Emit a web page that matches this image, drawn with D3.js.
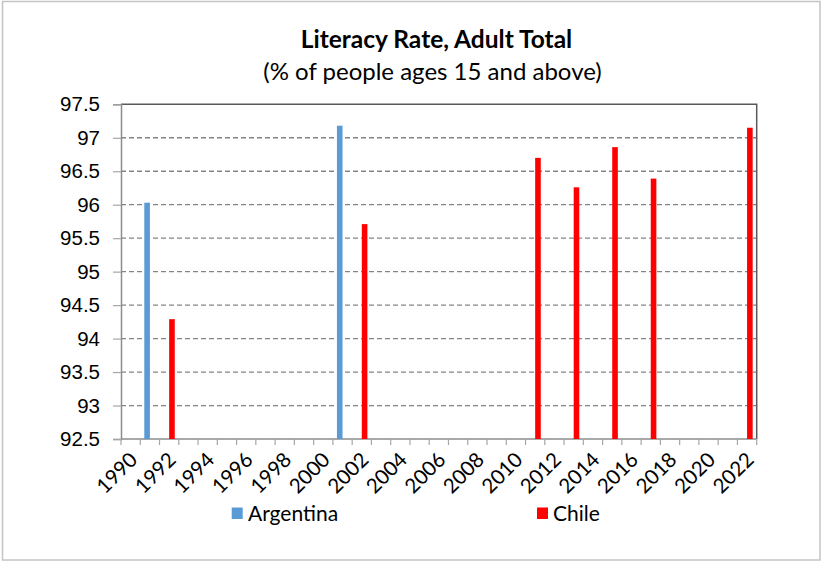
<!DOCTYPE html>
<html>
<head>
<meta charset="utf-8">
<script src="https://cdn.jsdelivr.net/npm/d3@7"></script>
<style>
  html, body { margin: 0; padding: 0; background: #fff; }
  svg { display: block; font-family: Lato, "Liberation Sans", sans-serif; }
</style>
</head>
<body>
<svg id="chart" width="822" height="561"></svg>
<script>
// Category axis: every year from 1990 to 2022
const years = [1990, 1991, 1992, 1993, 1994, 1995, 1996, 1997, 1998, 1999, 2000,
               2001, 2002, 2003, 2004, 2005, 2006, 2007, 2008, 2009, 2010,
               2011, 2012, 2013, 2014, 2015, 2016, 2017, 2018, 2019, 2020,
               2021, 2022];
const xTickLabels = [1990, 1992, 1994, 1996, 1998, 2000, 2002, 2004, 2006, 2008,
                     2010, 2012, 2014, 2016, 2018, 2020, 2022];
const yTicks = [92.5, 93, 93.5, 94, 94.5, 95, 95.5, 96, 96.5, 97, 97.5];

// Adult literacy rate (%), by country
const seriesNames = ["Argentina", "Chile"];
const seriesColors = ["#5b9bd5", "#ff0000"];
const argentinaYears = [1991, 2001];
const argentinaValues = [96.03, 97.18];
const chileYears = [1992, 2002, 2011, 2013, 2015, 2017, 2022];
const chileValues = [94.29, 95.71, 96.70, 96.26, 96.86, 96.39, 97.15];

const series = [
  { name: seriesNames[0], color: seriesColors[0],
    points: argentinaYears.map((y, i) => ({ year: y, value: argentinaValues[i] })) },
  { name: seriesNames[1], color: seriesColors[1],
    points: chileYears.map((y, i) => ({ year: y, value: chileValues[i] })) }
];

const svg = d3.select("#chart");
const plot = { left: 121, right: 756.7, top: 104.3, bottom: 439 };

// Outer frame
svg.append("rect")
  .attr("x", 2.5).attr("y", 1.5)
  .attr("width", 817.5).attr("height", 558.5)
  .attr("fill", "none").attr("stroke", "#c4c4c4").attr("stroke-width", 1.5);

const x = d3.scaleBand().domain(years).range([plot.left, plot.right]).padding(0);
const bw = x.bandwidth();
const xSub = d3.scaleBand().domain(seriesNames).range([bw / 2 - 5.6, bw / 2 + 5.6]).padding(0);
const y = d3.scaleLinear().domain([92.5, 97.5]).range([plot.bottom, plot.top]);

// Horizontal dashed gridlines
svg.append("g")
  .selectAll("line")
  .data(yTicks.filter(t => t > 92.5 && t < 97.5))
  .join("line")
  .attr("x1", plot.left).attr("x2", plot.right)
  .attr("y1", d => y(d)).attr("y2", d => y(d))
  .attr("stroke", "#858585").attr("stroke-width", 1.3)
  .attr("stroke-dasharray", "5,3");

// Plot frame: dark top and right edges
svg.append("path")
  .attr("d", `M${plot.left},${plot.top}H${plot.right}V${plot.bottom}`)
  .attr("fill", "none").attr("stroke", "#595959").attr("stroke-width", 1.5);

// Y axis
const yAxis = svg.append("g")
  .attr("transform", `translate(${plot.left},0)`)
  .call(d3.axisLeft(y).tickValues(yTicks).tickSize(8).tickPadding(13)
        .tickFormat(d => d3.format("")(d)));
yAxis.select(".domain").attr("stroke", "#8c8c8c").attr("stroke-width", 1.5);
yAxis.selectAll(".tick line").attr("stroke", "#a6a6a6").attr("stroke-width", 1.2);
yAxis.selectAll(".tick text")
  .attr("fill", "#000").style("font-size", "20.5px");

// X axis: ticks on category boundaries
const xAxisG = svg.append("g").attr("transform", `translate(0,${plot.bottom})`);
xAxisG.append("line")
  .attr("x1", plot.left).attr("x2", plot.right)
  .attr("stroke", "#8c8c8c").attr("stroke-width", 1.5);
xAxisG.selectAll("line.tk")
  .data(years.concat([null]))
  .join("line").attr("class", "tk")
  .attr("x1", d => d === null ? plot.right : x(d))
  .attr("x2", d => d === null ? plot.right : x(d))
  .attr("y1", 0).attr("y2", 6)
  .attr("stroke", "#a6a6a6").attr("stroke-width", 1.2);
xAxisG.selectAll("text")
  .data(xTickLabels)
  .join("text")
  .attr("transform", d => `translate(${x(d) + bw / 2 + 8},22) rotate(-45)`)
  .attr("text-anchor", "end")
  .attr("fill", "#000")
  .style("font-size", "20.5px")
  .text(d => d);

// Bars
svg.append("g")
  .selectAll("g")
  .data(series)
  .join("g")
  .attr("fill", d => d.color)
  .selectAll("rect")
  .data(d => d.points.map(p => ({ ...p, name: d.name })))
  .join("rect")
  .attr("x", d => x(d.year) + xSub(d.name))
  .attr("width", xSub.bandwidth())
  .attr("y", d => y(d.value))
  .attr("height", d => y(92.5) - y(d.value));

// Title
svg.append("text")
  .attr("x", 436.5).attr("y", 48)
  .attr("text-anchor", "middle")
  .style("font-size", "24.5px").style("font-weight", "bold")
  .attr("fill", "#000")
  .text("Literacy Rate, Adult Total");
svg.append("text")
  .attr("x", 432.5).attr("y", 80)
  .attr("text-anchor", "middle")
  .style("font-size", "24px")
  .attr("fill", "#000")
  .text("(% of people ages 15 and above)");

// Legend
const legendPos = [{ sx: 231.7, tx: 248 }, { sx: 537, tx: 553 }];
const legend = svg.append("g")
  .selectAll("g")
  .data(series)
  .join("g");
legend.append("rect")
  .attr("x", (d, i) => legendPos[i].sx).attr("y", 507.5)
  .attr("width", 11).attr("height", 11.5)
  .attr("fill", d => d.color);
legend.append("text")
  .attr("x", (d, i) => legendPos[i].tx).attr("y", 521)
  .style("font-size", "21px")
  .attr("fill", "#000")
  .text(d => d.name);
</script>
</body>
</html>
